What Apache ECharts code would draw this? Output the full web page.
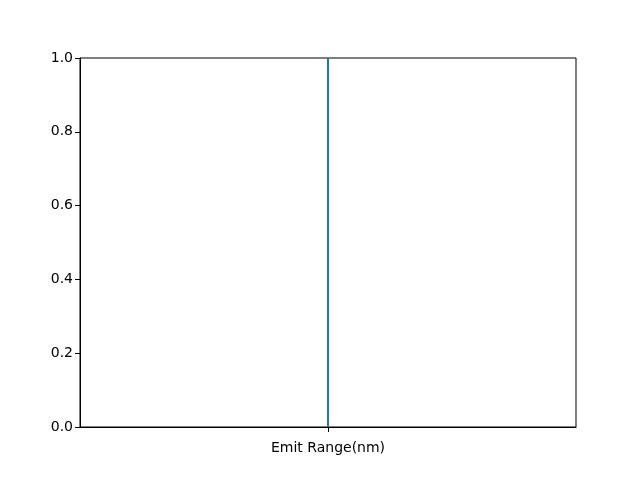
<!DOCTYPE html>
<html>
<head>
<meta charset="utf-8">
<script src="https://cdn.jsdelivr.net/npm/echarts@6/dist/echarts.min.js"></script>
<style>html,body{margin:0;padding:0;background:#fff;}#c{width:640px;height:480px;}</style>
</head>
<body>
<div id="c"></div>
<script>
const xValues = [0, 0];
const yValues = [0, 1];
const yTicks = [0.0, 0.2, 0.4, 0.6, 0.8, 1.0];
const xTickLabels = [''];
const xLabel = 'Emit Range(nm)';

const chart = echarts.init(document.getElementById('c'), null, {renderer: 'canvas'});
const font = 'DejaVu Sans';
chart.setOption({
  animation: false,
  backgroundColor: '#fff',
  grid: {left: 80, right: 64, top: 58, bottom: 53, show: true, borderColor: '#000', borderWidth: 1, backgroundColor: 'transparent'},
  xAxis: [{
    type: 'value', min: -1, max: 1,
    name: xLabel, nameLocation: 'middle', nameGap: 14,
    nameTextStyle: {fontFamily: font, fontSize: 14, color: '#000'},
    axisLine: {show: true, onZero: false, lineStyle: {color: '#000', width: 1}},
    axisTick: {show: false},
    axisLabel: {show: false},
    splitLine: {show: false}
  }, {
    type: 'category', position: 'bottom', data: xTickLabels, boundaryGap: true,
    axisLine: {show: false, onZero: false},
    axisTick: {show: true, alignWithLabel: true, length: 5, lineStyle: {color: '#000', width: 1}},
    axisLabel: {show: false},
    splitLine: {show: false}
  }],
  yAxis: {
    type: 'value', min: 0, max: 1, interval: 0.2,
    axisLine: {show: true, onZero: false, lineStyle: {color: '#000', width: 1}},
    axisTick: {show: true, length: 5, lineStyle: {color: '#000'}},
    axisLabel: {fontFamily: font, fontSize: 14, color: '#000', margin: 7,
      formatter: v => { const t = yTicks.find(x => Math.abs(x - v) < 1e-9); return (t !== undefined ? t : v).toFixed(1); }},
    splitLine: {show: false}
  },
  series: [{
    type: 'line', xAxisIndex: 0,
    data: xValues.map((x, i) => [x, yValues[i]]),
    showSymbol: false, symbol: 'none',
    lineStyle: {color: '#1f77b4', width: 2},
    clip: true
  }]
});
</script>
</body>
</html>
